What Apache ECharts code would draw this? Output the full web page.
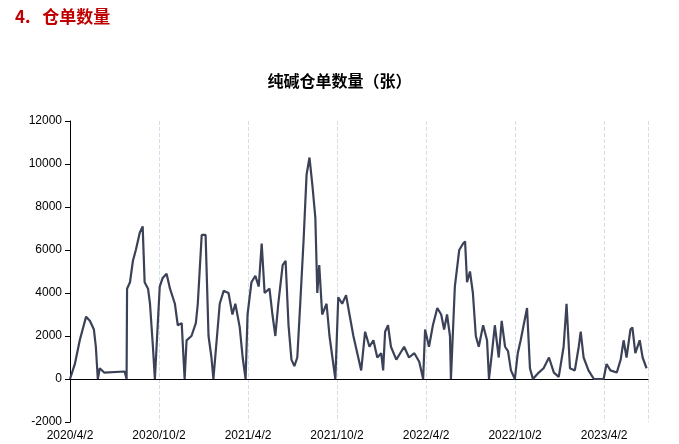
<!DOCTYPE html>
<html><head><meta charset="utf-8">
<script src="https://cdn.jsdelivr.net/npm/echarts@6/dist/echarts.min.js"></script>
<style>html,body{margin:0;padding:0;background:#fff}#c{width:679px;height:444px}</style>
</head><body><div id="c"></div>
<script>
// day offsets from 2020/4/2
const days = [0,10,20,33,41,49,53,57,61,70,112,116,117,123,129,135,143,149,153,160,164,170,174,184,190,198,205,215,221,229,235,239,249,258,262,270,278,284,290,294,307,315,325,333,339,348,354,360,364,372,380,387,393,399,409,415,421,427,436,442,448,454,460,466,472,479,485,491,497,503,507,511,517,526,532,538,544,550,558,566,573,581,597,605,614,622,630,638,642,646,652,658,669,677,685,695,706,716,724,728,736,744,753,761,767,773,779,781,789,798,806,810,814,820,826,832,838,847,855,859,865,871,879,885,892,898,904,912,918,924,930,937,943,949,961,971,982,992,1002,1012,1018,1025,1035,1043,1047,1053,1063,1074,1094,1100,1108,1121,1129,1135,1141,1149,1153,1159,1168,1174,1182];
const values = [0,700,1800,2900,2700,2300,1500,0,500,300,350,0,4200,4500,5500,6000,6800,7100,4500,4200,3500,1500,0,4300,4700,4900,4200,3500,2500,2600,0,1800,2000,2600,3500,6700,6700,2000,1000,0,3500,4100,4000,3000,3500,2400,1000,0,3000,4500,4800,4300,6300,4000,4200,3000,2000,3500,5300,5500,2500,900,600,1000,3500,6500,9500,10300,9000,7500,4000,5300,3000,3500,2000,1000,0,3800,3500,3900,3000,2000,400,2200,1500,1800,1000,1200,400,2200,2500,1500,900,1200,1500,1000,1200,800,0,2300,1500,2500,3300,3000,2300,3000,2000,0,4300,6000,6300,6400,4500,5000,4000,2000,1500,2500,1800,0,1200,2500,1000,2700,1500,1300,400,0,1200,1800,2500,3300,500,0,300,500,1000,300,100,1500,3500,500,400,1500,2200,1000,400,0,0,700,400,300,900,1800,1000,2300,2400,1200,1800,1000,500];
const tickLabels = ['2020/4/2','2020/10/2','2021/4/2','2021/10/2','2022/4/2','2022/10/2','2023/4/2'];
const data = days.map((d,i)=>[d,values[i]]);
const chart = echarts.init(document.getElementById('c'));
chart.setOption({
  animation:false,
  graphic:[{type:'text',left:15,top:8,style:{text:'4.   仓单数量',fill:'#c00000',font:'bold 17px "Noto Sans CJK SC"'}}],
  title:{text:'纯碱仓单数量（张）',left:'center',top:73,textStyle:{fontSize:16,fontWeight:'bold',color:'#000',fontFamily:'"Noto Sans CJK SC"'},padding:0},
  grid:{left:70,right:31,top:121,bottom:22},
  xAxis:{type:'value',min:0,max:1185,interval:182.5,
    axisLine:{onZero:true,lineStyle:{color:'#000'}},axisTick:{show:false},
    axisLabel:{color:'#000',fontSize:12,showMaxLabel:false,formatter:v=>tickLabels[Math.round(v/182.5)]||''},
    splitLine:{show:true,lineStyle:{type:'dashed',color:'#d6dde8'}}},
  yAxis:{type:'value',min:-2000,max:12000,interval:2000,
    axisLine:{show:true,lineStyle:{color:'#000'}},axisTick:{show:true,inside:false,lineStyle:{color:'#000'}},
    axisLabel:{color:'#000',fontSize:12,formatter:v=>String(v)},splitLine:{show:false}},
  series:[{type:'line',data:data,showSymbol:false,lineStyle:{color:'#3b4257',width:2.2},itemStyle:{color:'#3b4257'}}]
});
</script></body></html>
